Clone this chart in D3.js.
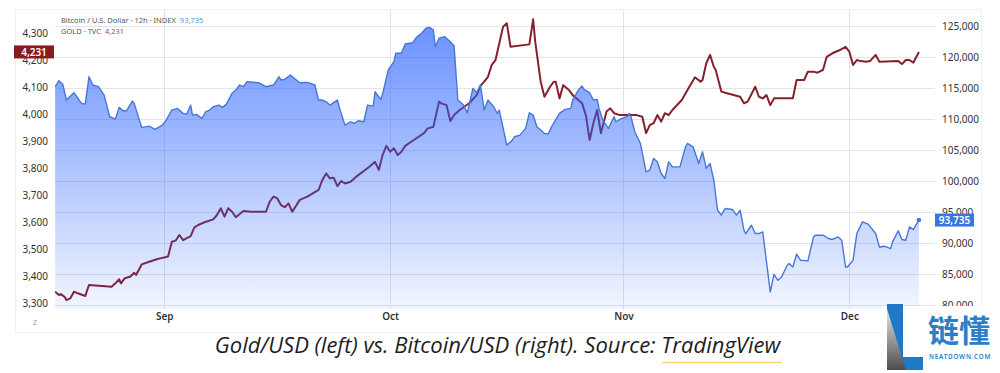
<!DOCTYPE html>
<html><head><meta charset="utf-8">
<script src="https://cdn.jsdelivr.net/npm/d3@7"></script>
<style>body{margin:0;background:#fff;} svg{display:block}</style>
</head><body>
<svg id="c" width="1000" height="373"></svg>
<script>
const btcTimes = [
"2025-08-17T12","2025-08-18T00","2025-08-18T12","2025-08-19T00","2025-08-20T00","2025-08-21T00","2025-08-21T12","2025-08-22T00","2025-08-22T12","2025-08-23T06","2025-08-24T00","2025-08-24T18","2025-08-25T12","2025-08-26T00","2025-08-26T12","2025-08-27T00","2025-08-27T18","2025-08-28T00","2025-08-29T00","2025-08-30T00","2025-08-30T18","2025-08-31T18",
"2025-09-01T06","2025-09-02T00","2025-09-02T18","2025-09-03T12","2025-09-04T00","2025-09-04T12","2025-09-04T18","2025-09-05T06","2025-09-06T00","2025-09-06T12","2025-09-07T00","2025-09-07T12","2025-09-08T06","2025-09-08T18","2025-09-09T06","2025-09-10T00","2025-09-10T12","2025-09-11T00","2025-09-11T12","2025-09-12T00","2025-09-13T12","2025-09-14T12","2025-09-15T12","2025-09-16T06","2025-09-16T12","2025-09-17T00","2025-09-17T18","2025-09-18T06","2025-09-19T00","2025-09-20T00","2025-09-21T00","2025-09-21T12","2025-09-22T00","2025-09-22T12","2025-09-23T00","2025-09-24T00","2025-09-24T06","2025-09-25T00","2025-09-25T18","2025-09-26T06","2025-09-26T18","2025-09-27T12","2025-09-28T00","2025-09-28T18","2025-09-29T00","2025-09-29T18","2025-09-30T00","2025-09-30T18",
"2025-10-01T12","2025-10-01T18","2025-10-02T12","2025-10-03T00","2025-10-04T00","2025-10-04T12","2025-10-05T06","2025-10-05T18","2025-10-06T06","2025-10-06T18","2025-10-07T00","2025-10-07T12","2025-10-08T06","2025-10-09T00","2025-10-09T12","2025-10-10T00","2025-10-10T18","2025-10-11T06","2025-10-12T00","2025-10-12T12","2025-10-13T00","2025-10-13T12","2025-10-14T00","2025-10-14T18","2025-10-15T06","2025-10-15T12","2025-10-16T12","2025-10-17T06","2025-10-17T12","2025-10-18T06","2025-10-19T00","2025-10-19T12","2025-10-20T00","2025-10-20T12","2025-10-21T00","2025-10-21T12","2025-10-22T00","2025-10-22T12","2025-10-23T12","2025-10-24T06","2025-10-25T00","2025-10-25T06","2025-10-26T00","2025-10-26T12","2025-10-26T18","2025-10-27T12","2025-10-28T00","2025-10-28T12","2025-10-28T18","2025-10-29T06","2025-10-30T00","2025-10-30T18","2025-10-31T00","2025-10-31T18",
"2025-11-01T12","2025-11-01T18","2025-11-02T00","2025-11-02T12","2025-11-03T06","2025-11-04T00","2025-11-04T12","2025-11-05T00","2025-11-05T12","2025-11-06T00","2025-11-06T12","2025-11-07T00","2025-11-07T12","2025-11-08T12","2025-11-09T06","2025-11-09T12","2025-11-10T06","2025-11-11T00","2025-11-11T12","2025-11-12T00","2025-11-12T12","2025-11-13T00","2025-11-13T12","2025-11-14T00","2025-11-14T12","2025-11-15T12","2025-11-16T00","2025-11-16T12","2025-11-17T00","2025-11-17T06","2025-11-18T00","2025-11-18T12","2025-11-19T00","2025-11-19T12","2025-11-20T12","2025-11-21T00","2025-11-21T12","2025-11-22T00","2025-11-22T18","2025-11-23T00","2025-11-23T12","2025-11-24T00","2025-11-24T12","2025-11-25T12","2025-11-26T06","2025-11-26T12","2025-11-27T12","2025-11-28T06","2025-11-28T18","2025-11-29T12","2025-11-30T00","2025-11-30T12","2025-11-30T18",
"2025-12-01T12","2025-12-02T00","2025-12-02T18","2025-12-03T12","2025-12-04T12","2025-12-05T00","2025-12-05T18","2025-12-06T12","2025-12-06T18","2025-12-07T12","2025-12-08T00","2025-12-08T12","2025-12-09T00","2025-12-09T12","2025-12-10T06"];
const btcValues = [
115215,116190,115650,113070,114250,112530,112420,116830,115490,115215,113870,110380,110000,111890,111350,111350,112900,112530,108660,108870,108340,109030,
109840,111450,111720,110920,110810,112260,110650,110760,110110,111180,111450,111990,112260,111890,112420,114150,114680,115490,115215,116020,115860,115215,115490,116830,116290,116400,117100,116560,115860,115920,115490,113070,113070,112800,112260,113070,111890,109030,109570,109300,109730,109570,112260,112100,114410,113180,114030,117910,
119250,120600,120600,122100,122310,123180,123920,124630,124790,124360,121670,123020,123280,122470,121780,113070,112260,111020,114950,114250,115490,111450,113070,111990,110920,111450,105810,106615,107150,107420,108500,111020,110650,108760,108230,107690,107580,108870,110920,111560,111720,113070,114680,115320,114790,114250,113070,113180,111720,109840,108500,110380,109570,110110,
110380,110920,110380,107960,106080,101500,101780,103660,103120,101240,100430,103120,102310,102310,105540,106080,105540,102850,104730,102050,102850,100160,95320,94520,95590,95430,94520,95320,92100,91560,92900,91560,91560,91830,82150,85000,84030,84570,86450,86720,86180,88230,87260,87150,91020,91290,91290,90760,90600,91020,90480,86180,86180,
87260,91560,93440,93070,91560,89400,89510,89140,90210,91990,90600,90480,92630,92210,93735];

const goldTimes = [
"2025-08-17T12","2025-08-18T00","2025-08-18T06","2025-08-18T18","2025-08-19T00","2025-08-19T12","2025-08-20T00","2025-08-20T12","2025-08-21T12","2025-08-22T00","2025-08-25T00","2025-08-25T12","2025-08-26T00","2025-08-26T06","2025-08-26T18","2025-08-27T12","2025-08-28T00","2025-08-28T06","2025-08-29T00","2025-08-30T00","2025-08-31T00",
"2025-09-01T00","2025-09-01T12","2025-09-02T00","2025-09-02T12","2025-09-03T00","2025-09-03T12","2025-09-04T12","2025-09-05T00","2025-09-05T12","2025-09-06T06","2025-09-07T12","2025-09-08T00","2025-09-08T12","2025-09-09T00","2025-09-09T12","2025-09-10T00","2025-09-10T12","2025-09-11T12","2025-09-12T12","2025-09-14T12","2025-09-15T00","2025-09-15T12","2025-09-16T00","2025-09-16T12","2025-09-17T00","2025-09-17T12","2025-09-18T00","2025-09-19T00","2025-09-20T00","2025-09-21T12","2025-09-22T00","2025-09-22T12","2025-09-23T00","2025-09-23T12","2025-09-24T00","2025-09-24T12","2025-09-25T00","2025-09-25T18","2025-09-26T12","2025-09-28T06","2025-09-29T00","2025-09-29T12","2025-09-30T00","2025-09-30T12",
"2025-10-01T00","2025-10-01T12","2025-10-02T00","2025-10-02T12","2025-10-03T00","2025-10-04T00","2025-10-05T12","2025-10-06T00","2025-10-06T18","2025-10-07T12","2025-10-07T18","2025-10-08T12","2025-10-09T00","2025-10-09T12","2025-10-10T06","2025-10-11T12","2025-10-12T12","2025-10-13T00","2025-10-13T12","2025-10-14T00","2025-10-14T12","2025-10-15T00","2025-10-15T06","2025-10-16T00","2025-10-16T12","2025-10-17T00","2025-10-19T12","2025-10-20T00","2025-10-20T06","2025-10-21T00","2025-10-21T12","2025-10-22T06","2025-10-22T18","2025-10-23T00","2025-10-23T12","2025-10-24T00","2025-10-24T18","2025-10-25T06","2025-10-26T00","2025-10-26T12","2025-10-27T00","2025-10-27T12","2025-10-28T00","2025-10-28T12","2025-10-29T00","2025-10-29T18","2025-10-30T06","2025-10-30T18","2025-10-31T12",
"2025-11-01T18","2025-11-02T18","2025-11-03T12","2025-11-04T00","2025-11-04T12","2025-11-05T00","2025-11-05T12","2025-11-06T00","2025-11-06T12","2025-11-07T00","2025-11-07T12","2025-11-08T18","2025-11-09T12","2025-11-10T12","2025-11-11T06","2025-11-11T12","2025-11-12T00","2025-11-12T12","2025-11-13T00","2025-11-13T06","2025-11-14T00","2025-11-14T18","2025-11-16T12","2025-11-17T00","2025-11-17T12","2025-11-18T12","2025-11-19T00","2025-11-19T12","2025-11-20T00","2025-11-20T12","2025-11-21T00","2025-11-23T12","2025-11-24T00","2025-11-25T00","2025-11-25T12","2025-11-26T06","2025-11-26T18","2025-11-27T12","2025-11-28T00","2025-11-28T18","2025-11-29T18","2025-11-30T12",
"2025-12-01T00","2025-12-01T12","2025-12-02T00","2025-12-02T12","2025-12-03T06","2025-12-03T18","2025-12-04T12","2025-12-05T00","2025-12-07T12","2025-12-08T00","2025-12-08T12","2025-12-09T00","2025-12-09T12","2025-12-10T06"];
const goldValues = [
3343,3331,3334,3324,3312,3318,3343,3337,3327,3368,3361,3374,3389,3374,3393,3399,3413,3405,3444,3454,3463,
3470,3473,3528,3532,3553,3534,3549,3581,3590,3599,3611,3627,3652,3621,3652,3639,3619,3642,3639,3639,3676,3695,3689,3664,3656,3670,3639,3683,3695,3720,3757,3781,3763,3765,3734,3753,3744,3750,3769,3806,3824,3794,3849,3883,
3861,3874,3849,3861,3883,3902,3930,3948,3954,4047,4041,4034,3975,3997,4016,4041,4071,4105,4121,4139,4183,4201,4232,4324,4337,4250,4259,4352,4275,4121,4065,4102,4121,4121,4059,4108,4090,4071,4053,4041,3997,3905,3967,4016,3930,4010,4022,4004,3997,
3997,3997,3991,3930,3960,3967,3997,3973,4004,3997,4016,4053,4090,4137,4121,4127,4189,4220,4176,4164,4084,4078,4065,4041,4047,4102,4065,4059,4071,4034,4059,4059,4127,4127,4158,4158,4154,4164,4213,4226,4238,4250,
4232,4183,4201,4197,4195,4197,4220,4195,4197,4186,4201,4201,4191,4231];

const goldTicks = [3300,3400,3500,3600,3700,3800,3900,4000,4100,4200,4300];
const btcTicks = [80000,85000,90000,95000,100000,105000,110000,115000,120000,125000];
const monthTicks = ["2025-09-01T00","2025-10-01T00","2025-11-01T00","2025-12-01T00"];
const monthLabels = ["Sep","Oct","Nov","Dec"];
const btcLast = 93735, goldLast = 4231;
const btcLegend = "Bitcoin / U.S. Dollar · 12h · INDEX";
const goldLegend = "GOLD · TVC";
const caption = ["Gold/USD (left) vs. Bitcoin/USD (right). Source: ", "TradingView"];

const parse = d3.utcParse("%Y-%m-%dT%H");
const btc = btcTimes.map((t,i)=>({t:parse(t), v:btcValues[i]}));
const gold = goldTimes.map((t,i)=>({t:parse(t), v:goldValues[i]}));

const svg = d3.select("#c");
const FONT = "'Noto Sans', 'Open Sans', sans-serif";

const x = d3.scaleUtc().domain([parse("2025-09-01T00"), parse("2025-12-01T00")]).range([164.3, 849.3]);
const yL = d3.scaleLinear().domain([3300, 4300]).range([303.3, 33.3]);
const yR = d3.scaleLinear().domain([80000, 125000]).range([305.3, 26]);

const plotL = 55, plotR = 935, plotT = 9.5, plotB = 309;

svg.append("rect").attr("x",15.5).attr("y",9.5).attr("width",966).attr("height",323)
  .attr("fill","#fff").attr("stroke","#f1f1f1");

const defs = svg.append("defs");
defs.append("clipPath").attr("id","clip").append("rect")
  .attr("x",plotL).attr("y",plotT).attr("width",plotR-plotL).attr("height",plotB-plotT);
const grad = defs.append("linearGradient").attr("id","g").attr("gradientUnits","userSpaceOnUse")
  .attr("x1",0).attr("x2",0).attr("y1",yR(125000)).attr("y2",plotB);
grad.append("stop").attr("offset",0).attr("stop-color","rgb(41,98,255)").attr("stop-opacity",0.7);
grad.append("stop").attr("offset",1).attr("stop-color","rgb(41,98,255)").attr("stop-opacity",0.06);

// gridlines
svg.append("g").selectAll("line").data(btcTicks).join("line")
  .attr("x1",plotL).attr("x2",plotR).attr("y1",d=>Math.round(yR(d))+0.5).attr("y2",d=>Math.round(yR(d))+0.5)
  .attr("stroke","#e2e4ea").attr("stroke-width",1);
svg.append("g").selectAll("line").data(monthTicks).join("line")
  .attr("x1",d=>Math.round(x(parse(d)))+0.5).attr("x2",d=>Math.round(x(parse(d)))+0.5)
  .attr("y1",plotT).attr("y2",plotB).attr("stroke","#e2e4ea").attr("stroke-width",1);

const plot = svg.append("g").attr("clip-path","url(#clip)");

plot.append("path").datum(gold)
  .attr("d", d3.line().x(d=>x(d.t)).y(d=>yL(d.v)))
  .attr("fill","none").attr("stroke","#86202e").attr("stroke-width",2).attr("stroke-linejoin","round");

plot.append("path").datum(btc)
  .attr("d", d3.area().x(d=>x(d.t)).y0(plotB).y1(d=>yR(d.v)))
  .attr("fill","url(#g)");
plot.append("path").datum(btc)
  .attr("d", d3.line().x(d=>x(d.t)).y(d=>yR(d.v)))
  .attr("fill","none").attr("stroke","#4677d6").attr("stroke-width",1.4).attr("stroke-linejoin","round");
const lastB = btc[btc.length-1];
plot.append("circle").attr("cx",x(lastB.t)).attr("cy",yR(lastB.v)).attr("r",2.3).attr("fill","#4677d6");

// left axis
const axL = svg.append("g").attr("transform","translate(48,0)")
  .call(d3.axisLeft(yL).tickValues(goldTicks).tickSize(0).tickPadding(0).tickFormat(d3.format(",")));
axL.select(".domain").remove();
axL.selectAll("text").attr("font-family",FONT).attr("font-size",10).attr("fill","#333");

// right axis
const axR = svg.append("g").attr("transform","translate(942,0)")
  .call(d3.axisRight(yR).tickValues(btcTicks).tickSize(0).tickPadding(0).tickFormat(d3.format(",")));
axR.select(".domain").remove();
axR.selectAll("text").attr("font-family",FONT).attr("font-size",10).attr("fill","#333");

// bottom axis
const axB = svg.append("g").attr("transform","translate(0,313)")
  .call(d3.axisBottom(x).tickValues(monthTicks.map(parse)).tickSize(0).tickPadding(0)
    .tickFormat((d,i)=>monthLabels[i]));
axB.select(".domain").remove();
axB.selectAll("text").attr("font-family",FONT).attr("font-size",10).attr("font-weight","600").attr("fill","#333");
svg.append("text").attr("x",35).attr("y",325).attr("text-anchor","middle")
  .attr("font-family",FONT).attr("font-size",7).attr("fill","#999").text("Z");

// legend
const lg1 = svg.append("text").attr("x",61).attr("y",22.5).attr("font-family",FONT).attr("font-size",7.5).attr("fill","#555");
lg1.append("tspan").text(btcLegend);
lg1.append("tspan").attr("dx",4).attr("fill","#5b95d6").text(d3.format(",")(btcLast));
const lg2 = svg.append("text").attr("x",61).attr("y",34).attr("font-family",FONT).attr("font-size",7.5).attr("fill","#555");
lg2.append("tspan").text(goldLegend);
lg2.append("tspan").attr("dx",4).attr("fill","#b5454f").text(d3.format(",")(goldLast));

// last value boxes
const gy = yL(goldLast);
svg.append("rect").attr("x",14).attr("y",gy-6.5).attr("width",40).attr("height",13).attr("fill","#8b1a1f");
svg.append("text").attr("x",34).attr("y",gy+3.6).attr("text-anchor","middle").attr("font-family",FONT)
  .attr("font-size",10).attr("font-weight","600").attr("fill","#fff").text(d3.format(",")(goldLast));
const by = yR(btcLast);
svg.append("rect").attr("x",935).attr("y",by-6.5).attr("width",39).attr("height",13).attr("fill","#3478e0");
svg.append("text").attr("x",954.5).attr("y",by+3.6).attr("text-anchor","middle").attr("font-family",FONT)
  .attr("font-size",10).attr("font-weight","600").attr("fill","#fff").text(d3.format(",")(btcLast));

// caption
const cap = svg.append("text").attr("x",497.5).attr("y",353).attr("text-anchor","middle")
  .attr("font-family","'Open Sans', sans-serif").attr("font-style","italic").attr("font-size",22).attr("fill","#1e1e1e");
cap.append("tspan").text(caption[0]);
const tv = cap.append("tspan").text(caption[1]);
const bb = tv.node().getBBox();
svg.append("line").attr("x1",bb.x+1).attr("x2",bb.x+bb.width).attr("y1",362.5).attr("y2",362.5)
  .attr("stroke","#f2d96a").attr("stroke-width",1.3);

// watermark logo
const logo = svg.append("g");
const lg = defs.append("linearGradient").attr("id","lg").attr("x1",0).attr("x2",0).attr("y1",0).attr("y2",1);
lg.append("stop").attr("offset",0).attr("stop-color","#e6e6e6");
lg.append("stop").attr("offset",1).attr("stop-color","#4d4d4d");
logo.append("rect").attr("x",881).attr("y",306).attr("width",119).attr("height",67).attr("fill","#fff");
logo.append("path").attr("d","M887,304 L903,304 L903,357 L923,357 L923,370 L887,370 Z").attr("fill","#1f78c8");
logo.append("path").attr("d","M887,309 L906,370 L887,370 Z").attr("fill","url(#lg)");
logo.append("text").attr("x",959).attr("y",342).attr("text-anchor","middle")
  .attr("font-family","'Noto Sans CJK SC', sans-serif").attr("font-size",31).attr("font-weight","700")
  .attr("fill","#2a7fc8").text("链懂");
logo.append("text").attr("x",960).attr("y",359).attr("text-anchor","middle")
  .attr("font-family",FONT).attr("font-size",6.3).attr("letter-spacing",0.8).attr("font-weight","600")
  .attr("fill","#2a7fc8").text("NEATDOWN.COM");
</script>
</body></html>
